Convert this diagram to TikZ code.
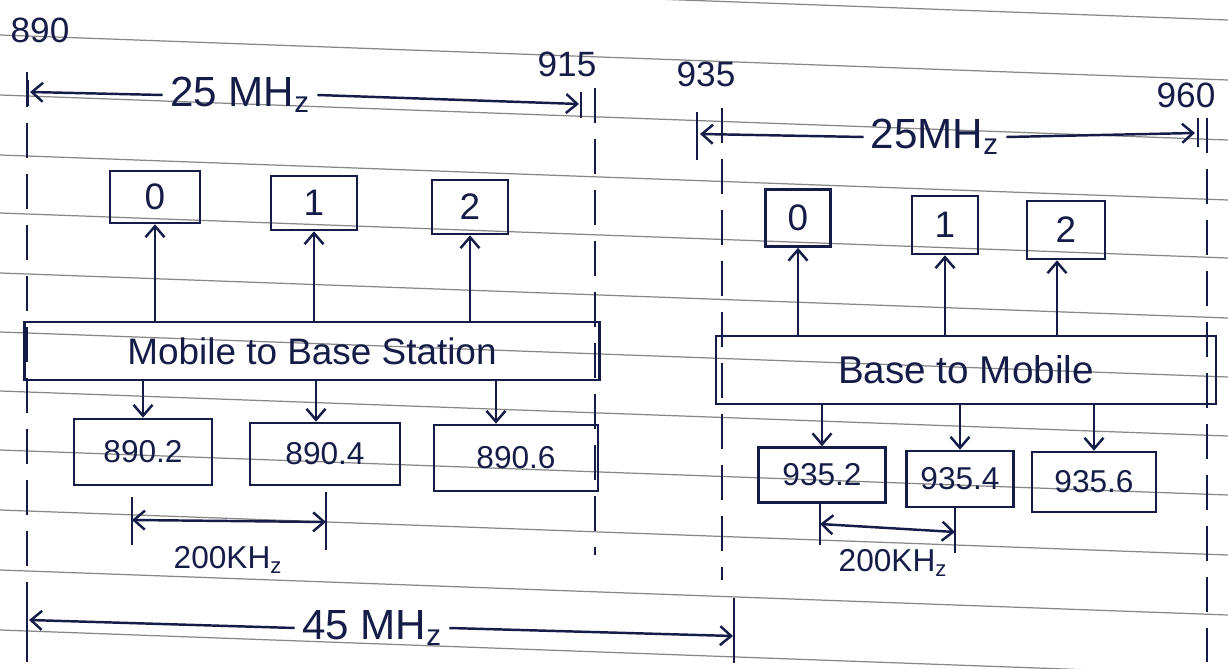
\documentclass[tikz,border=0pt]{standalone}
\usepackage{fontspec}
\setmainfont{Liberation Sans}
\usetikzlibrary{arrows.meta,calc}
\definecolor{ink}{RGB}{22,28,72}
\definecolor{rulecol}{RGB}{135,135,135}
\begin{document}
\begin{tikzpicture}[x=0.02cm,y=-0.02cm,
  every node/.style={text=ink},
  box/.style={draw=ink,line width=1.5pt,inner sep=0pt},
  conn/.style={draw=ink,line width=1.4pt,-{Straight Barb[length=2.2mm,width=3.8mm]}},
  dimline/.style={draw=ink,line width=1.4pt,{Straight Barb[length=2.2mm,width=3.8mm]}-{Straight Barb[length=2.2mm,width=3.8mm]}},
  guide/.style={draw=ink,line width=1.1pt,dash pattern=on 20pt off 9pt},
  bar/.style={draw=ink,line width=1.4pt},
  ruled/.style={draw=rulecol,line width=0.7pt},
  lbl/.style={font=\fontsize{20}{24}\selectfont,inner sep=1pt},
  big/.style={font=\fontsize{24}{28}\selectfont,inner sep=4pt},
  digit/.style={box,font=\fontsize{21}{25}\selectfont},
  freq/.style={box,font=\fontsize{18}{22}\selectfont},
  band/.style={box,font=\fontsize{21}{26}\selectfont},
  small/.style={font=\fontsize{18}{22}\selectfont,inner sep=1pt}
]
\useasboundingbox (0,0) rectangle (1228,669);
\fill[white] (0,0) rectangle (1228,669);
% notebook ruling
\foreach \y in {-25,35,95,155,213,273,332,391,450,510,570,630,690}
  \draw[ruled] (0,\y) -- (1228,\y+45);

% frequency labels
\node[lbl] (n890) at (40,30) {890};
\node[lbl] (n915) at (567,64) {915};
\node[lbl] (n935) at (706,74) {935};
\node[lbl] (n960) at (1186,95) {960};

% vertical guides
\coordinate (g1a) at (27,72);   \coordinate (g1b) at (27,662);
\coordinate (g2a) at (595,88);  \coordinate (g2b) at (595,555);
\coordinate (g3a) at (722,108); \coordinate (g3b) at (722,580);
\coordinate (g4a) at (1207,118);\coordinate (g4b) at (1207,662);
\draw[guide] (g1a) -- (g1b);
\draw[guide] (g2a) -- (g2b);
\draw[guide] (g3a) -- (g3b);
\draw[guide] (g4a) -- (g4b);

% 25 MHz uplink band
\node[big] (t1) at (240,95) {25 MH\textsubscript{z}};
\coordinate (tl1) at (30,92); \coordinate (tl2) at (579,104);
\draw[conn] (t1.west) -- (tl1);
\draw[conn] (t1.east) -- (tl2);
\draw[bar] (28,80) -- (28,106);
\draw[bar] (581,92) -- (581,118);

% 25 MHz downlink band
\node[big] (t2) at (935,137) {25MH\textsubscript{z}};
\coordinate (tr1) at (700,134); \coordinate (tr2) at (1195,133);
\draw[conn] (t2.west) -- (tr1);
\draw[conn] (t2.east) -- (tr2);
\draw[bar] (697,112) -- (697,160);
\draw[bar] (1198,118) -- (1198,147);

% left channels
\node[digit,minimum width=1.8cm,minimum height=1.04cm] (c0) at (155,197) {0};
\node[digit,minimum width=1.72cm,minimum height=1.08cm] (c1) at (314,203) {1};
\node[digit,minimum width=1.52cm,minimum height=1.08cm] (c2) at (470,207) {2};
\node[band,minimum width=11.5cm,minimum height=1.16cm] (L) at (312,351) {Mobile to Base Station};
\node[freq,minimum width=2.76cm,minimum height=1.32cm] (f0) at (143,452) {890.2};
\node[freq,minimum width=3.0cm,minimum height=1.24cm] (f1) at (325,454) {890.4};
\node[freq,minimum width=3.28cm,minimum height=1.32cm] (f2) at (516,458) {890.6};

\draw[conn] (L.north -| c0) -- (c0.south);
\draw[conn] (L.north -| c1) -- (c1.south);
\draw[conn] (L.north -| c2) -- (c2.south);
\draw[conn] (L.south -| f0) -- (f0.north);
\coordinate (d1) at ($(f1.north)+(-9,0)$);
\coordinate (d2) at ($(f2.north)+(-20,0)$);
\draw[conn] (L.south -| d1) -- (d1);
\draw[conn] (L.south -| d2) -- (d2);

% right channels
\node[digit,minimum width=1.3cm,minimum height=1.14cm] (e0) at (798,218) {0};
\node[digit,minimum width=1.32cm,minimum height=1.16cm] (e1) at (945,225) {1};
\node[digit,minimum width=1.56cm,minimum height=1.16cm] (e2) at (1066,230) {2};
\node[band,font=\fontsize{22}{26}\selectfont,minimum width=10cm,minimum height=1.36cm] (R) at (966,370) {Base to Mobile};
\node[freq,minimum width=2.54cm,minimum height=1.1cm] (h0) at (822,475) {935.2};
\node[freq,minimum width=2.14cm,minimum height=1.12cm] (h1) at (960,479) {935.4};
\node[freq,minimum width=2.48cm,minimum height=1.2cm] (h2) at (1094,482) {935.6};

\draw[conn] (R.north -| e0) -- (e0.south);
\draw[conn] (R.north -| e1) -- (e1.south);
\coordinate (u2) at ($(e2.south)+(-9,0)$);
\draw[conn] (R.north -| u2) -- (u2);
\draw[conn] (R.south -| h0) -- (h0.north);
\draw[conn] (R.south -| h1) -- (h1.north);
\draw[conn] (R.south -| h2) -- (h2.north);

% 200 kHz spacing, left
\coordinate (k1a) at (132,497); \coordinate (k1b) at (132,545);
\coordinate (k2a) at (326,492); \coordinate (k2b) at (326,550);
\draw[bar] (k1a) -- (k1b);
\draw[bar] (k2a) -- (k2b);
\draw[dimline] (132,520) -- (326,522);
\node[small] (s1) at (228,560) {200KH\textsubscript{z}};

% 200 kHz spacing, right
\coordinate (m1a) at (820,502); \coordinate (m1b) at (820,545);
\coordinate (m2a) at (955,507); \coordinate (m2b) at (955,553);
\draw[bar] (m1a) -- (m1b);
\draw[bar] (m2a) -- (m2b);
\draw[dimline] (820,524) -- (955,532);
\node[small] (s2) at (893,563) {200KH\textsubscript{z}};

% 45 MHz duplex spacing
\node[big] (t3) at (372,628) {45 MH\textsubscript{z}};
\coordinate (b1) at (29,620); \coordinate (b2) at (733,636);
\draw[conn] (t3.west) -- (b1);
\draw[conn] (t3.east) -- (b2);
\draw[bar] (27,588) -- (27,662);
\draw[bar] (734,598) -- (734,663);
\end{tikzpicture}
\end{document}
